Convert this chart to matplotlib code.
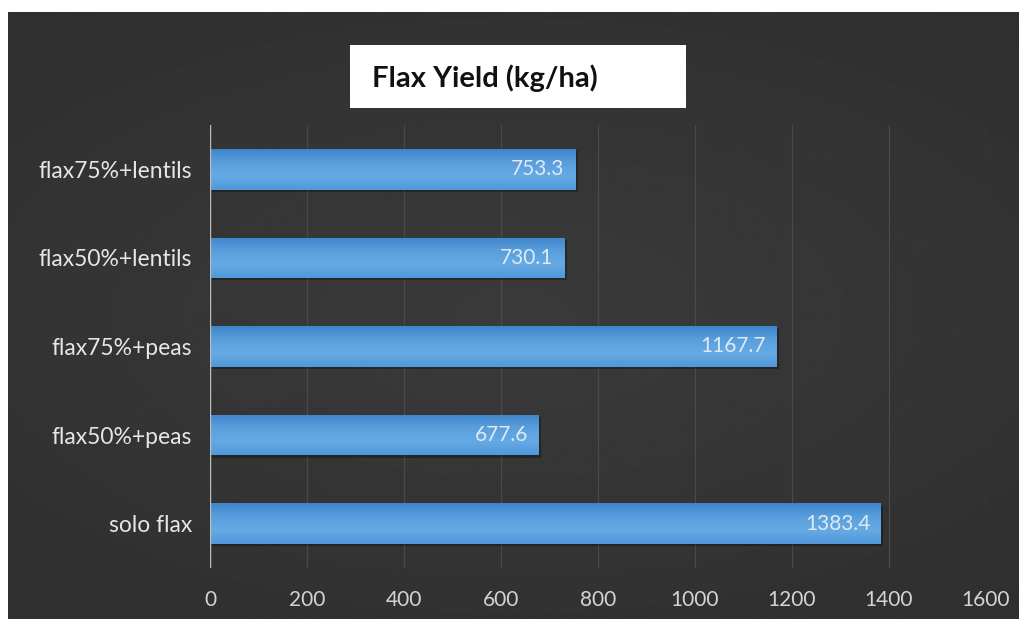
import numpy as np
import matplotlib.pyplot as plt
from matplotlib.colors import LinearSegmentedColormap

categories = ['solo flax', 'flax50%+peas', 'flax75%+peas', 'flax50%+lentils', 'flax75%+lentils']
yields = [1383.4, 677.6, 1167.7, 730.1, 753.3]
xticks = [0, 200, 400, 600, 800, 1000, 1200, 1400, 1600]

plt.rcParams['font.family'] = ['Lato', 'DejaVu Sans']

fig = plt.figure(figsize=(10.2, 6.19), dpi=100)
fig.patch.set_facecolor('white')

# dark panel with soft radial shading
bg = fig.add_axes([8/1020, 0, 1 - 8/1020, 1 - 12/619])
yy, xx = np.mgrid[-1:1:300j, -1:1:500j]
rad = np.sqrt((xx*0.9)**2 + (yy*1.1)**2)
bg.imshow(0.23 - 0.045*np.clip(rad, 0, 1.4)/1.4, cmap='gray', vmin=0, vmax=1,
          aspect='auto', extent=[0, 1, 0, 1])
bg.axis('off')

ax = fig.add_axes([210/1020, 1 - 568/619, 776/1020, 443/619])
ax.patch.set_alpha(0)
y = np.arange(len(categories))
bars = ax.barh(y, yields, height=0.46, color='#4f95d6', zorder=3)

# shading across each bar: brighter band near the top, deeper bottom edge
grad = np.linspace(0, 1, 64).reshape(-1, 1)
cmap = LinearSegmentedColormap.from_list('bb', ['#3e85cb', '#5a9fdd', '#66aae4', '#5098da'])
for b in bars:
    x0, y0, w, h = b.get_x(), b.get_y(), b.get_width(), b.get_height()
    ax.barh(y0 + h/2 - 0.025, w, height=h, left=x0 + 5, color='black', alpha=0.3, zorder=2)
    im = ax.imshow(grad, cmap=cmap, aspect='auto',
                   extent=[x0, x0 + w, y0, y0 + h], zorder=3.5)
    im.set_clip_path(b)
    ax.text(x0 + w - 22, y0 + h/2, f'{w:.1f}', ha='right', va='center',
            color='#dfe9f4', fontsize=15, zorder=4)

ax.set_xlim(0, 1600)
ax.set_ylim(-0.5, len(categories) - 0.5)
ax.set_xticks(xticks)
ax.set_yticks(y)
ax.set_yticklabels(categories)
ax.grid(axis='x', color='#4a4a4a', linewidth=0.9, zorder=0)
ax.axvline(0, color='#bdbdbd', linewidth=1, zorder=4)
for s in ax.spines.values():
    s.set_visible(False)
ax.tick_params(axis='x', length=0, pad=16, labelsize=15, labelcolor='#d4d4d4')
ax.tick_params(axis='y', length=0, pad=13, labelsize=16.5, labelcolor='#e6e6e6')

# title on a white box
fig.patches.append(plt.Rectangle((350/1020, 1 - 108/619), 336/1020, 63/619,
                                 transform=fig.transFigure, facecolor='white',
                                 edgecolor='none', zorder=5))
fig.text(372/1020, 1 - 78/619, 'Flax Yield (kg/ha)', ha='left', va='center',
         fontsize=21, fontweight='bold', color='#111111', zorder=6)

fig.savefig('out.png', dpi=100, facecolor='white')
